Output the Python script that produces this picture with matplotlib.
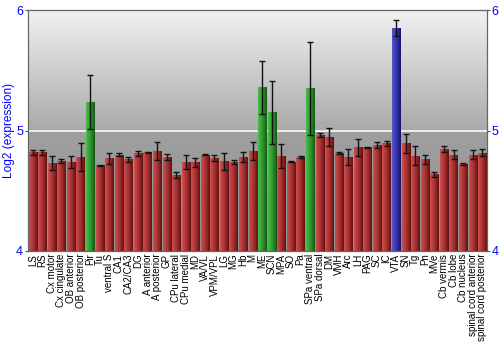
import numpy as np
import matplotlib
matplotlib.use("Agg")
import matplotlib.pyplot as plt
from matplotlib.colors import LinearSegmentedColormap

regions = ["LS", "RS", "Cx motor", "Cx cingulate", "OB anterior", "OB posterior",
           "Pir", "Tu", "ventral S", "CA1", "CA2/CA3", "DG", "A anterior",
           "A posterior", "GP", "CPu lateral", "CPu medial", "MD", "VA/VL",
           "VPM/VPL", "LG", "MG", "Hb", "M", "ME", "SCN", "MPA", "SO", "Pa",
           "SPa ventral", "SPa dorsal", "DM", "VMH", "Arc", "LH", "PAG", "SC",
           "IC", "VTA", "SN", "Tg", "Pn", "MVe", "Cb vermis", "Cb lobe",
           "Cb nucleus", "spinal cord anterior", "spinal cord posterior"]

log2_expr = [4.82, 4.82, 4.73, 4.75, 4.74, 4.78,
             5.235, 4.71, 4.77, 4.80, 4.76, 4.81, 4.82,
             4.83, 4.78, 4.63, 4.74, 4.735, 4.80,
             4.77, 4.745, 4.74, 4.78, 4.83, 5.358, 5.15, 4.79, 4.74, 4.78,
             5.35, 4.965, 4.945, 4.81, 4.78, 4.86, 4.86, 4.88,
             4.895, 5.85, 4.895, 4.79, 4.76, 4.635, 4.85, 4.80,
             4.72, 4.80, 4.815]

std_err = [0.022, 0.02, 0.057, 0.017, 0.05, 0.12,
           0.225, 0.004, 0.045, 0.014, 0.02, 0.022, 0.004,
           0.078, 0.025, 0.028, 0.06, 0.039, 0.004,
           0.026, 0.07, 0.017, 0.04, 0.076, 0.22, 0.26, 0.10, 0.004, 0.008,
           0.385, 0.018, 0.076, 0.008, 0.065, 0.07, 0.004, 0.024,
           0.02, 0.066, 0.078, 0.08, 0.04, 0.02, 0.025, 0.037,
           0.01, 0.039, 0.028]

green_regions = ["Pir", "ME", "SCN", "SPa ventral"]
blue_regions = ["VTA"]

plt.rcParams["font.family"] = ["Liberation Sans", "DejaVu Sans"]

fig = plt.figure(figsize=(5, 3.5), dpi=100)
ax = fig.add_axes([0.056, 0.283, 0.918, 0.688])

ymin, ymax = 4, 6
n = len(regions)
x = np.arange(n)
ax.set_xlim(-0.5, n - 0.5)
ax.set_ylim(ymin, ymax)

# background: light-to-dark grey band above 5, flat darker grey below
bg_cmap = LinearSegmentedColormap.from_list(
    "bg", [(0.0, "#8e8e8e"), (0.5, "#a0a0a0"), (0.5, "#a9a9a9"), (1.0, "#f2f2f2")])
grad = np.linspace(0, 1, 256).reshape(-1, 1)
ax.imshow(grad, cmap=bg_cmap, aspect="auto", origin="lower",
          extent=(-0.5, n - 0.5, ymin, ymax), zorder=0)
ax.axhline(5, color="#eeeeee", lw=1.4, zorder=1)

shade = {
    "red": LinearSegmentedColormap.from_list(
        "red", ["#c85454", "#bb4040", "#a83232", "#8a2020", "#601010"]),
    "green": LinearSegmentedColormap.from_list(
        "green", ["#4cbc4c", "#3caa3c", "#2f962f", "#227a22", "#155515"]),
    "blue": LinearSegmentedColormap.from_list(
        "blue", ["#5656cc", "#4343bb", "#3434a8", "#24248a", "#151560"]),
}
hgrad = np.linspace(0, 1, 64).reshape(1, -1)

width = 0.86
bars = ax.bar(x, np.array(log2_expr) - ymin, bottom=ymin, width=width,
              color="none", edgecolor="none", zorder=2)
for name, bar, v in zip(regions, bars, log2_expr):
    kind = "green" if name in green_regions else "blue" if name in blue_regions else "red"
    x0 = bar.get_x()
    im = ax.imshow(hgrad, cmap=shade[kind], aspect="auto",
                   extent=(x0, x0 + width, ymin, v), zorder=2)
    im.set_clip_path(bar)

ax.errorbar(x, log2_expr, yerr=std_err, fmt="none", ecolor="#111111",
            elinewidth=1.0, capsize=2.2, capthick=1.0, zorder=3)

ax.set_xticks(x)
ax.set_xticklabels(regions, rotation=90, fontsize=7.0)
ax.tick_params(axis="x", length=0, pad=2)

ax.set_yticks([4, 5, 6])
ax.tick_params(axis="y", which="both", left=True, right=True,
               labelleft=True, labelright=True, length=2.5,
               color="#555555", labelcolor="#0000ff", labelsize=9, pad=1)
ax.set_ylabel("Log2 (expression)", color="#0000ff", fontsize=8.6, labelpad=1)

for sp in ax.spines.values():
    sp.set_color("#666666")
    sp.set_linewidth(0.9)

fig.savefig("out.png", dpi=100)
